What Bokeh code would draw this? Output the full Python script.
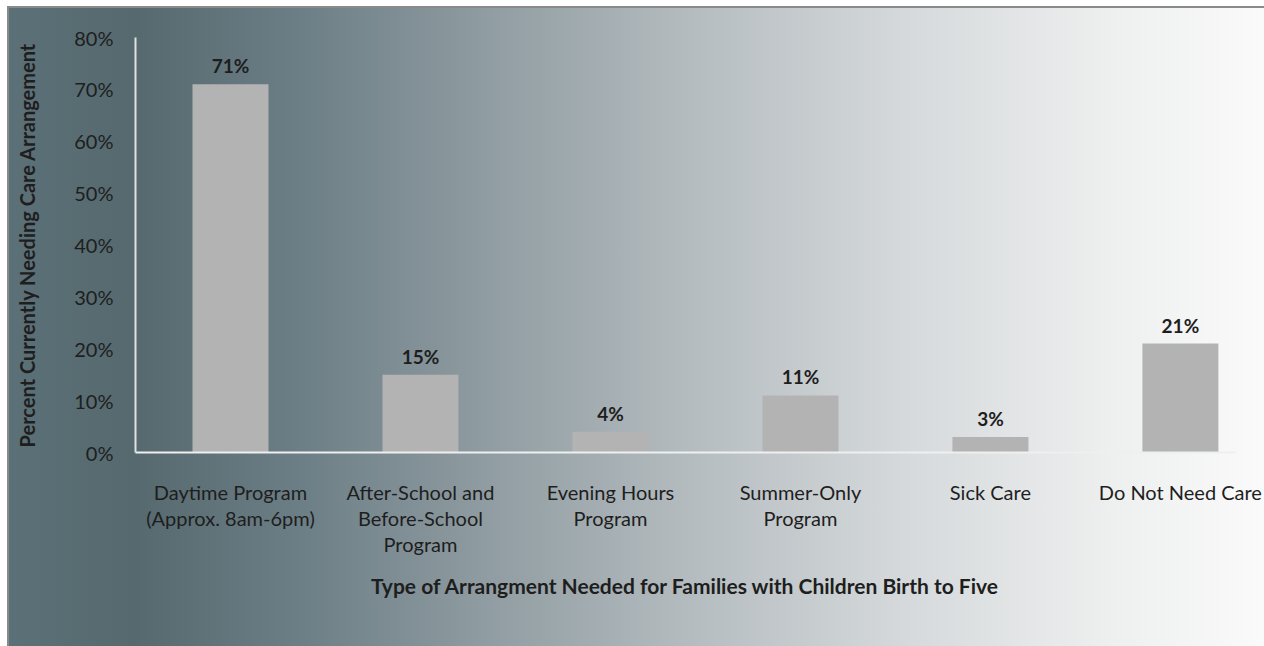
from bokeh.plotting import figure
from bokeh.models import Range1d, FixedTicker, ColumnDataSource
from bokeh.core.properties import value
from bokeh.embed import file_html
from bokeh.resources import INLINE

categories = [
    "Daytime Program\n(Approx. 8am-6pm)",
    "After-School and\nBefore-School\nProgram",
    "Evening Hours\nProgram",
    "Summer-Only\nProgram",
    "Sick Care",
    "Do Not Need Care",
]
percents = [71, 15, 4, 11, 3, 21]
value_labels = ["71%", "15%", "4%", "11%", "3%", "21%"]
y_ticks = [0, 10, 20, 30, 40, 50, 60, 70, 80]

FONT = "Lato"
TEXT = "#1e1e1e"

xs = list(range(len(categories)))
src = ColumnDataSource(dict(x=xs, top=percents, lab=value_labels))

p = figure(
    frame_width=1100, frame_height=415,
    min_border_left=126, min_border_right=29, min_border_top=29, min_border_bottom=194,
    x_range=Range1d(-0.5, 5.29), y_range=Range1d(0, 80),
    output_backend="svg", toolbar_location=None,
)
p.border_fill_color = None
p.background_fill_color = None
p.outline_line_color = None
p.styles = {
    "margin-left": "7px",
    "margin-top": "6px",
    "border-left": "2px solid #8a8a8a",
    "border-top": "2px solid #8a8a8a",
    "background": "linear-gradient(to right, #5c7077 0%, #55696f 10%, #6e8087 24%, #94a0a5 40%, #b8bfc2 56%, #d6dadc 72%, #eeefef 88%, #fafafa 100%)",
}
p.xgrid.visible = False
p.ygrid.visible = False

p.vbar(x="x", top="top", width=0.4, source=src, fill_color="#b3b3b3", line_color=None)
p.text(x="x", y="top", text="lab", source=src, text_align="center", text_baseline="bottom",
       y_offset=-7, text_font=value(FONT), text_font_style="bold", text_font_size="19px",
       text_color=TEXT)

# y axis
ya = p.yaxis[0]
ya.ticker = FixedTicker(ticks=y_ticks)
ya.major_label_overrides = {t: f"{t}%" for t in y_ticks}
ya.major_tick_line_color = None
ya.minor_tick_line_color = None
ya.axis_line_color = "#dfe2e3"
ya.axis_line_width = 2
ya.major_label_standoff = 16
ya.major_label_text_font = FONT
ya.major_label_text_font_size = "20px"
ya.major_label_text_color = TEXT
ya.axis_label = "Percent Currently Needing Care Arrangement"
ya.axis_label_text_font = FONT
ya.axis_label_text_font_style = "bold"
ya.axis_label_text_font_size = "20px"
ya.axis_label_text_color = TEXT
ya.axis_label_standoff = 32

# x axis
xa = p.xaxis[0]
xa.ticker = FixedTicker(ticks=xs)
xa.major_label_overrides = {i: c for i, c in enumerate(categories)}
xa.major_tick_line_color = None
xa.minor_tick_line_color = None
xa.axis_line_color = "#eef0f0"
xa.axis_line_width = 2
xa.major_label_standoff = 21
xa.major_label_text_font = FONT
xa.major_label_text_font_size = "20px"
xa.major_label_text_line_height = 1.1
xa.major_label_text_color = TEXT
xa.axis_label = "Type of Arrangment Needed for Families with Children Birth to Five"
xa.axis_label_text_font = FONT
xa.axis_label_text_font_style = "bold"
xa.axis_label_text_font_size = "21px"
xa.axis_label_text_color = TEXT
xa.axis_label_standoff = 14

open("out.html", "w").write(file_html(p, INLINE))
